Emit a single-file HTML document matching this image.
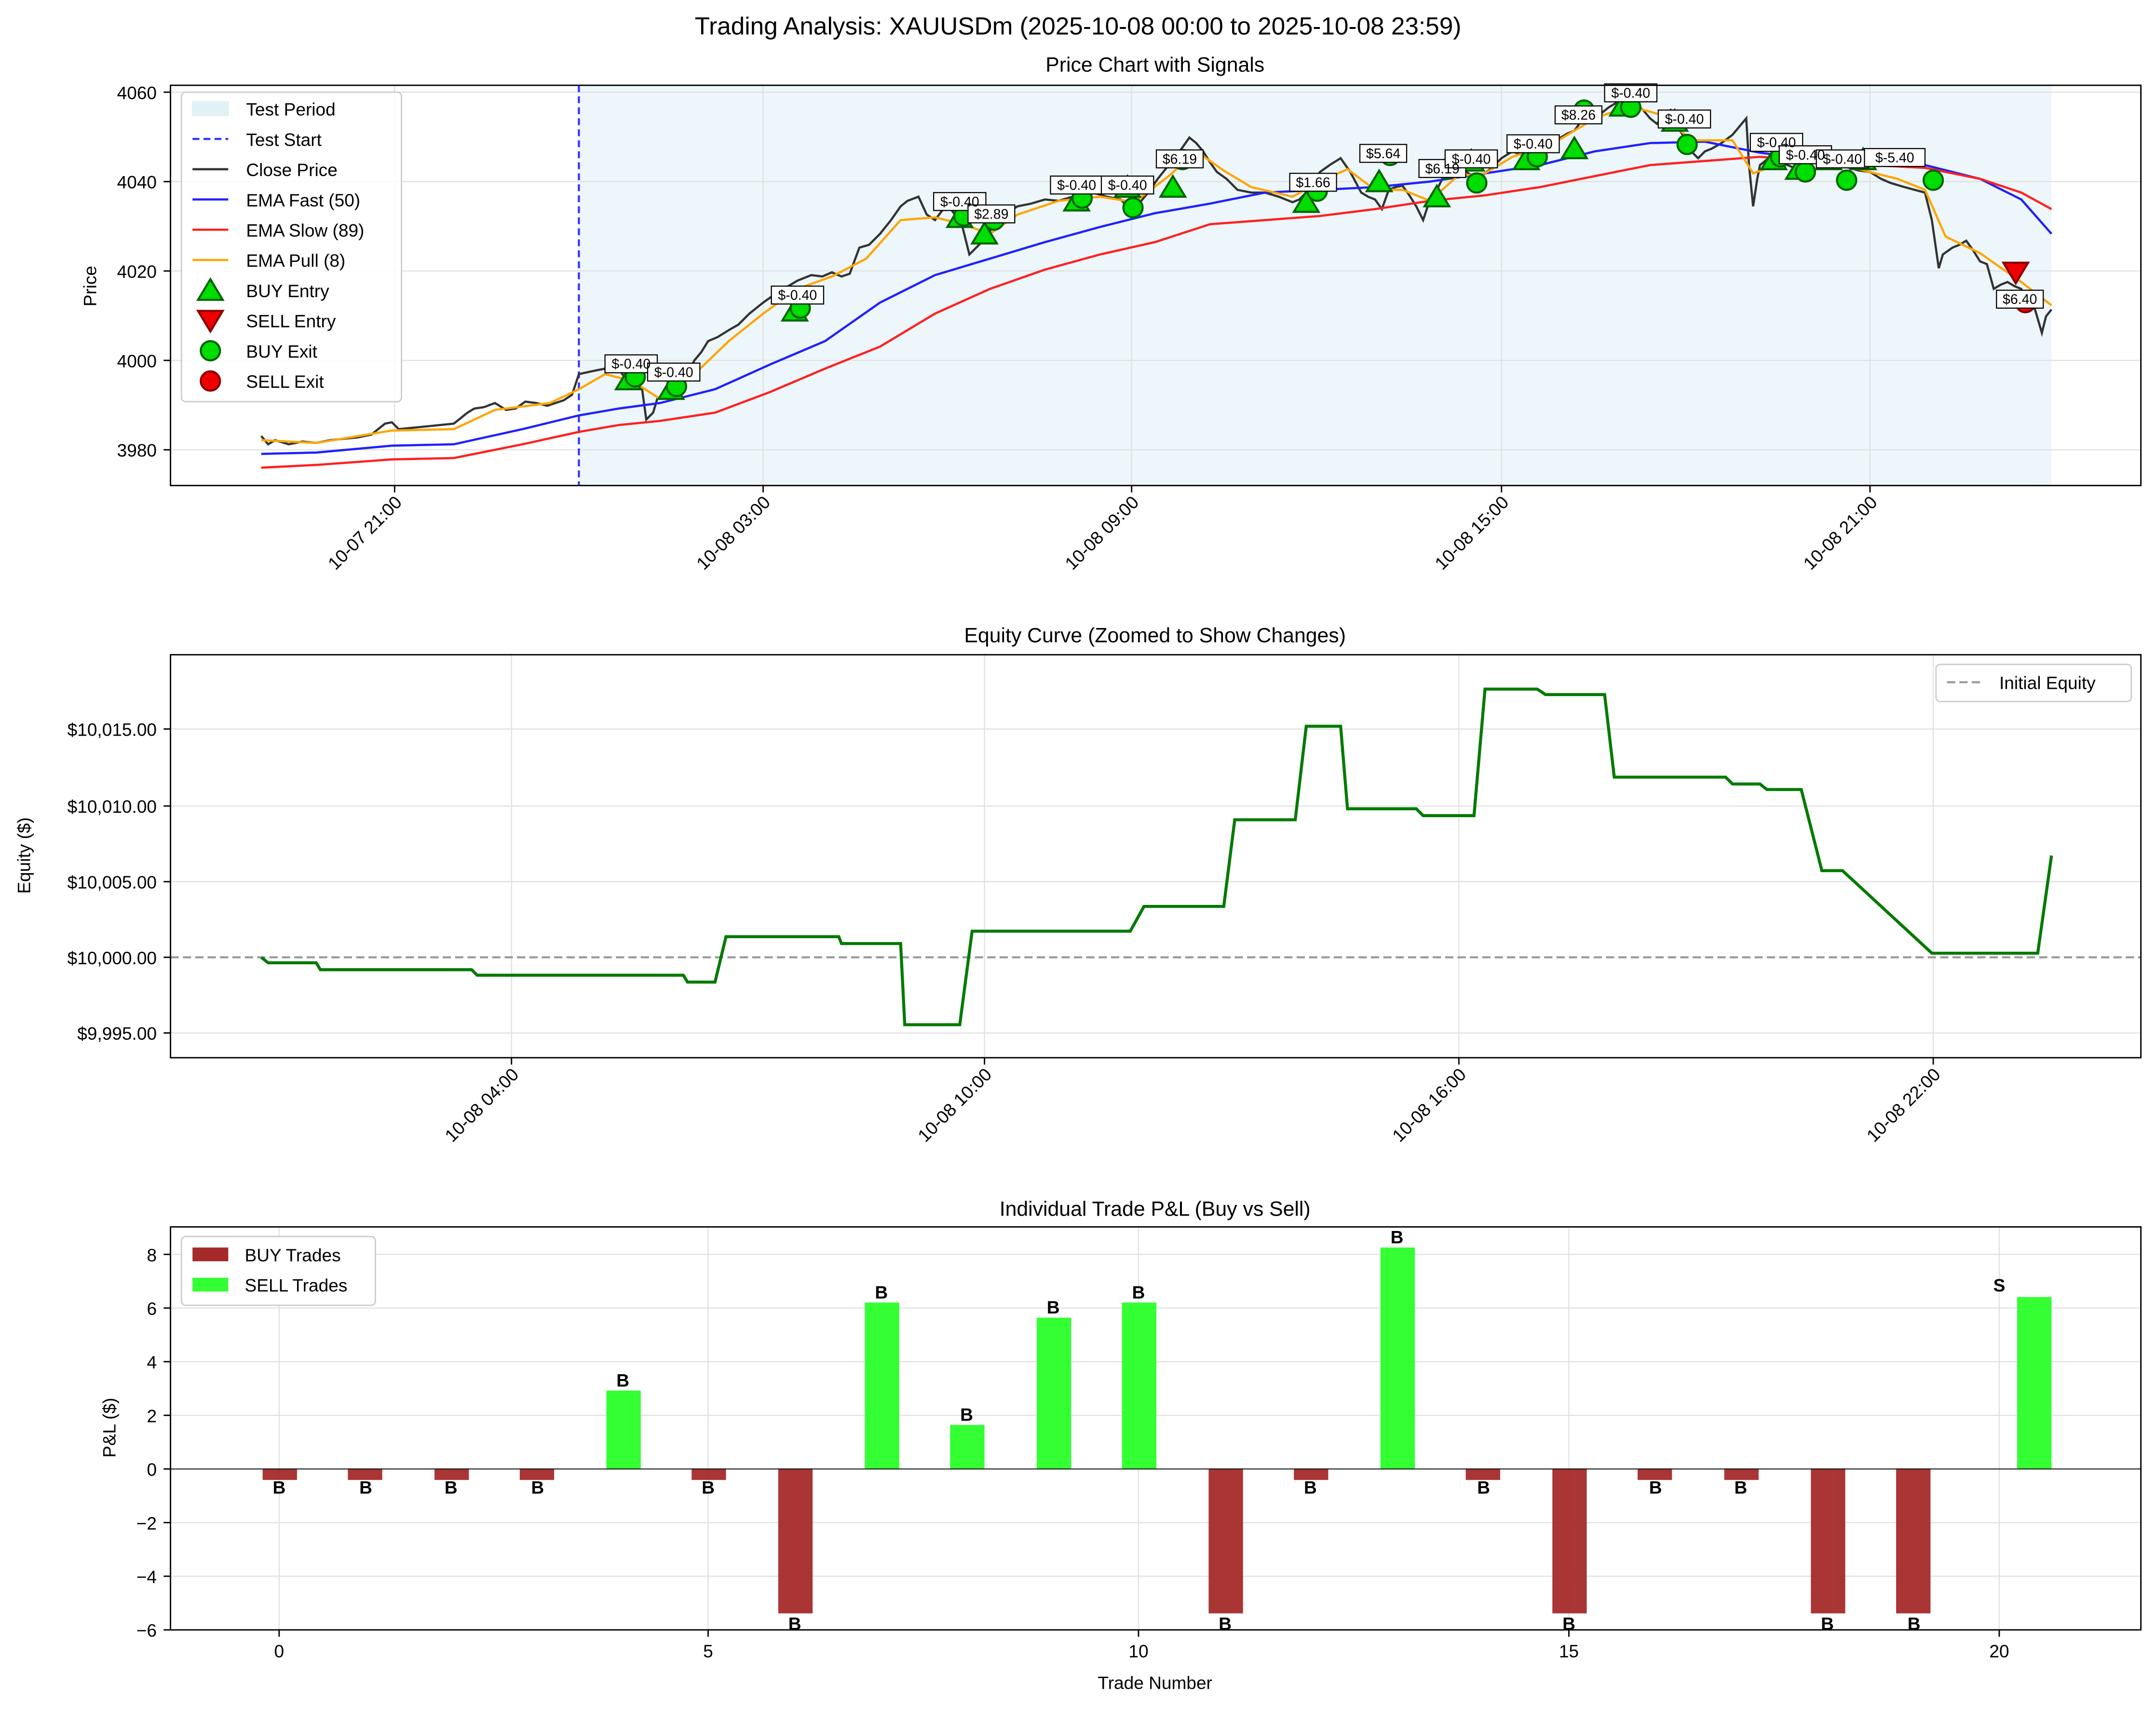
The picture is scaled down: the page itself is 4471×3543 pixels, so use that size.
<!DOCTYPE html>
<html><head><meta charset="utf-8"><style>html,body{margin:0;padding:0;background:#fff}svg{display:block}</style></head><body>
<svg width="4471" height="3543" viewBox="0 0 1568 1242.5" xmlns="http://www.w3.org/2000/svg" font-family="Liberation Sans, DejaVu Sans, sans-serif">
<rect width="1568" height="1243" fill="#fff"/>
<text x="784" y="25" font-size="18" text-anchor="middle">Trading Analysis: XAUUSDm (2025-10-08 00:00 to 2025-10-08 23:59)</text>

<!-- Panel 1 -->
<text x="840" y="52" font-size="15" text-anchor="middle">Price Chart with Signals</text>
<rect x="421" y="62" width="1071" height="291" fill="#add8e6" opacity="0.22"/>
<g stroke="#e0e0e0" stroke-width="0.8">
<line x1="287" y1="62" x2="287" y2="353"/><line x1="555" y1="62" x2="555" y2="353"/><line x1="823" y1="62" x2="823" y2="353"/><line x1="1092" y1="62" x2="1092" y2="353"/><line x1="1360" y1="62" x2="1360" y2="353"/>
<line x1="124" y1="327" x2="1557" y2="327"/><line x1="124" y1="262" x2="1557" y2="262"/><line x1="124" y1="197" x2="1557" y2="197"/><line x1="124" y1="132" x2="1557" y2="132"/><line x1="124" y1="67" x2="1557" y2="67"/>
</g>
<line x1="421" y1="62" x2="421" y2="353" stroke="#3333ff" stroke-width="1.5" stroke-dasharray="5,3"/>
<polyline fill="none" stroke="#333" stroke-width="1.6" points="190,317 195,323 200,320 210,323 220,321 230,322 240,320 250,319 260,318 270,316 280,308 285,307 290,312 330,308 340,300 345,297 352,296 360,293 368,298 375,297 382,292 390,293 398,295 410,291 416,287 421,272 430,270 440,268 448,266 455,275 462,277 467,283 470,305 475,300 478,290 484,288 490,287 497,278 505,262 510,256 515,248 522,245 530,240 537,236 545,228 550,224 555,220 562,215 570,210 580,204 590,200 598,201 605,198 612,201 618,199 625,180 632,178 640,170 648,160 655,150 660,146 668,143 674,156 680,160 686,152 690,150 696,158 700,165 705,185 710,180 715,175 720,168 725,160 732,155 740,150 750,148 760,145 770,146 780,143 788,141 795,140 805,143 815,145 820,150 825,148 830,146 835,140 842,130 850,120 858,110 865,100 870,104 875,110 880,118 885,125 892,130 900,138 910,140 920,140 930,143 940,147 945,145 950,140 955,132 960,125 967,120 975,115 982,125 990,140 995,143 1000,145 1005,152 1010,138 1015,136 1020,135 1025,142 1030,150 1035,160 1040,145 1045,138 1050,128 1055,124 1060,120 1068,126 1075,130 1080,126 1085,122 1092,115 1100,110 1105,112 1110,113 1115,108 1120,105 1128,103 1135,100 1140,97 1145,95 1150,88 1155,80 1160,84 1165,82 1170,78 1175,75 1180,74 1185,72 1190,76 1195,80 1200,86 1205,90 1210,84 1215,80 1220,92 1225,100 1230,110 1235,115 1240,110 1245,108 1252,104 1260,98 1265,92 1270,86 1272,120 1275,150 1278,130 1280,120 1285,116 1290,112 1295,116 1300,120 1305,122 1310,125 1315,118 1320,115 1325,114 1330,115 1338,120 1345,122 1352,124 1360,125 1368,130 1375,133 1385,136 1400,140 1405,160 1410,195 1413,185 1420,180 1425,178 1430,175 1435,182 1440,190 1445,192 1450,210 1455,207 1460,205 1465,208 1470,210 1475,220 1480,225 1485,242 1488,230 1492,225"/>
<polyline fill="none" stroke="#2020ff" stroke-width="1.6" points="190,330 230,329 285,324 330,323 380,312 421,302 450,297 480,293 520,283 560,265 600,248 640,220 680,200 720,188 760,176 800,165 840,155 880,148 920,140 960,138 1000,136 1040,132 1080,126 1120,120 1160,110 1200,104 1240,103 1280,111 1320,116 1360,118 1400,120 1440,130 1470,145 1492,170"/>
<polyline fill="none" stroke="#ff2020" stroke-width="1.6" points="190,340 230,338 285,334 330,333 380,323 421,314 450,309 480,306 520,300 560,285 600,268 640,252 680,228 720,210 760,196 800,185 840,176 880,163 920,160 960,157 1000,152 1040,146 1080,142 1120,136 1160,128 1200,120 1240,117 1280,114 1320,117 1360,120 1400,122 1440,130 1470,140 1492,152"/>
<polyline fill="none" stroke="#ffa500" stroke-width="1.6" points="190,320 230,322 285,313 330,312 360,298 400,293 421,283 440,272 460,277 480,290 505,272 530,248 555,228 580,210 605,201 630,188 655,160 680,158 700,163 720,170 740,156 770,146 800,143 825,147 850,128 870,110 890,124 910,136 940,143 960,132 980,123 1000,138 1020,138 1040,146 1060,128 1080,126 1100,114 1130,104 1160,86 1185,77 1210,84 1230,102 1260,102 1275,126 1300,117 1340,120 1380,130 1400,138 1415,172 1440,184 1470,205 1492,222"/>
<g fill="#00dd00" stroke="#006400" stroke-width="1.5">
<path d="M457,268 l9,15 h-18z"/><path d="M488,275 l9,15 h-18z"/><path d="M578,218 l9,15 h-18z"/><path d="M698,150 l9,15 h-18z"/><path d="M716,162 l9,15 h-18z"/><path d="M783,138 l9,15 h-18z"/><path d="M820,128 l9,15 h-18z"/><path d="M853,128 l9,15 h-18z"/><path d="M950,139 l9,15 h-18z"/><path d="M1003,124 l9,15 h-18z"/><path d="M1045,135 l9,15 h-18z"/><path d="M1070,109 l9,15 h-18z"/><path d="M1110,108 l9,15 h-18z"/><path d="M1145,100 l9,15 h-18z"/><path d="M1180,69 l9,15 h-18z"/><path d="M1218,80 l9,15 h-18z"/><path d="M1290,108 l9,15 h-18z"/><path d="M1308,115 l9,15 h-18z"/><path d="M1330,108 l9,15 h-18z"/><path d="M1355,108 l9,15 h-18z"/>
<circle cx="462" cy="274" r="7"/><circle cx="492" cy="281" r="7"/><circle cx="582" cy="224" r="7"/><circle cx="701" cy="157" r="7"/><circle cx="723" cy="160" r="7"/><circle cx="787" cy="144" r="7"/><circle cx="824" cy="151" r="7"/><circle cx="860" cy="116" r="7"/><circle cx="958" cy="139" r="7"/><circle cx="1011" cy="113" r="7"/><circle cx="1052" cy="123" r="7"/><circle cx="1074" cy="133" r="7"/><circle cx="1118" cy="114" r="7"/><circle cx="1152" cy="80" r="7"/><circle cx="1186" cy="78" r="7"/><circle cx="1227" cy="105" r="7"/><circle cx="1295" cy="114" r="7"/><circle cx="1313" cy="125" r="7"/><circle cx="1343" cy="131" r="7"/><circle cx="1406" cy="131" r="7"/>
</g>
<path d="M1466,206 l9,-15 h-18z" fill="#ee0000" stroke="#8b0000" stroke-width="1.5"/>
<circle cx="1473" cy="220" r="7" fill="#ee0000" stroke="#8b0000" stroke-width="1.5"/>
<g font-size="10" text-anchor="middle">
<g fill="#fff" stroke="#000" stroke-width="0.8">
<rect x="440" y="258" width="38" height="13"/><rect x="471" y="264" width="38" height="13"/><rect x="561" y="208" width="38" height="13"/><rect x="679" y="140" width="38" height="13"/><rect x="704" y="149" width="34" height="13"/><rect x="764" y="128" width="38" height="13"/><rect x="801" y="128" width="38" height="13"/><rect x="841" y="109" width="34" height="13"/><rect x="938" y="126" width="34" height="13"/><rect x="989" y="105" width="34" height="13"/><rect x="1032" y="116" width="34" height="13"/><rect x="1051" y="109" width="38" height="13"/><rect x="1096" y="98" width="38" height="13"/><rect x="1131" y="77" width="34" height="13"/><rect x="1167" y="61" width="38" height="13"/><rect x="1206" y="80" width="38" height="13"/><rect x="1273" y="97" width="38" height="13"/><rect x="1294" y="106" width="38" height="13"/><rect x="1321" y="109" width="38" height="13"/><rect x="1356" y="108" width="44" height="13"/><rect x="1452" y="211" width="34" height="13"/>
</g>
<text x="459" y="268">$-0.40</text><text x="490" y="274">$-0.40</text><text x="580" y="218">$-0.40</text><text x="698" y="150">$-0.40</text><text x="721" y="159">$2.89</text><text x="783" y="138">$-0.40</text><text x="820" y="138">$-0.40</text><text x="858" y="119">$6.19</text><text x="955" y="136">$1.66</text><text x="1006" y="115">$5.64</text><text x="1049" y="126">$6.19</text><text x="1070" y="119">$-0.40</text><text x="1115" y="108">$-0.40</text><text x="1148" y="87">$8.26</text><text x="1186" y="71">$-0.40</text><text x="1225" y="90">$-0.40</text><text x="1292" y="107">$-0.40</text><text x="1313" y="116">$-0.40</text><text x="1340" y="119">$-0.40</text><text x="1378" y="118">$-5.40</text><text x="1469" y="221">$6.40</text>
</g>
<rect x="124" y="62" width="1433" height="291" fill="none" stroke="#000" stroke-width="1"/>
<g font-size="13" text-anchor="end">
<text x="114" y="332">3980</text><text x="114" y="267">4000</text><text x="114" y="202">4020</text><text x="114" y="137">4040</text><text x="114" y="72">4060</text>
</g>
<g stroke="#000"><line x1="119" y1="327" x2="124" y2="327"/><line x1="119" y1="262" x2="124" y2="262"/><line x1="119" y1="197" x2="124" y2="197"/><line x1="119" y1="132" x2="124" y2="132"/><line x1="119" y1="67" x2="124" y2="67"/>
<line x1="287" y1="353" x2="287" y2="358"/><line x1="555" y1="353" x2="555" y2="358"/><line x1="823" y1="353" x2="823" y2="358"/><line x1="1092" y1="353" x2="1092" y2="358"/><line x1="1360" y1="353" x2="1360" y2="358"/></g>
<text x="70" y="208" font-size="13" text-anchor="middle" transform="rotate(-90 70 208)">Price</text>
<g font-size="13" text-anchor="end">
<text transform="translate(293,366) rotate(-45)">10-07 21:00</text><text transform="translate(561,366) rotate(-45)">10-08 03:00</text><text transform="translate(829,366) rotate(-45)">10-08 09:00</text><text transform="translate(1098,366) rotate(-45)">10-08 15:00</text><text transform="translate(1366,366) rotate(-45)">10-08 21:00</text>
</g>
<rect x="132" y="67" width="160" height="225" rx="3" fill="#fff" fill-opacity="0.85" stroke="#ccc"/>
<g font-size="13">
<rect x="140" y="74" width="26" height="10" fill="#add8e6" opacity="0.35" stroke="#add8e6"/><text x="179" y="84">Test Period</text>
<line x1="140" y1="101" x2="166" y2="101" stroke="#3333ff" stroke-width="1.5" stroke-dasharray="5,3"/><text x="179" y="106">Test Start</text>
<line x1="140" y1="123" x2="166" y2="123" stroke="#333" stroke-width="1.6"/><text x="179" y="128">Close Price</text>
<line x1="140" y1="145" x2="166" y2="145" stroke="#2020ff" stroke-width="1.6"/><text x="179" y="150">EMA Fast (50)</text>
<line x1="140" y1="167" x2="166" y2="167" stroke="#ff2020" stroke-width="1.6"/><text x="179" y="172">EMA Slow (89)</text>
<line x1="140" y1="189" x2="166" y2="189" stroke="#ffa500" stroke-width="1.6"/><text x="179" y="194">EMA Pull (8)</text>
<path d="M153,203 l9,15 h-18z" fill="#00dd00" stroke="#006400" stroke-width="1.5"/><text x="179" y="216">BUY Entry</text>
<path d="M153,241 l9,-15 h-18z" fill="#ee0000" stroke="#8b0000" stroke-width="1.5"/><text x="179" y="238">SELL Entry</text>
<circle cx="153" cy="255" r="7" fill="#00dd00" stroke="#006400" stroke-width="1.5"/><text x="179" y="260">BUY Exit</text>
<circle cx="153" cy="277" r="7" fill="#ee0000" stroke="#8b0000" stroke-width="1.5"/><text x="179" y="282">SELL Exit</text>
</g>

<!-- Panel 2 -->
<text x="840" y="467" font-size="15" text-anchor="middle">Equity Curve (Zoomed to Show Changes)</text>
<g stroke="#e0e0e0" stroke-width="0.8">
<line x1="372" y1="476" x2="372" y2="769"/><line x1="716" y1="476" x2="716" y2="769"/><line x1="1061" y1="476" x2="1061" y2="769"/><line x1="1406" y1="476" x2="1406" y2="769"/>
<line x1="124" y1="751" x2="1557" y2="751"/><line x1="124" y1="641" x2="1557" y2="641"/><line x1="124" y1="586" x2="1557" y2="586"/><line x1="124" y1="530" x2="1557" y2="530"/>
</g>
<line x1="124" y1="696" x2="1557" y2="696" stroke="#999" stroke-width="1.5" stroke-dasharray="6,3"/>
<polyline fill="none" stroke="#007a00" stroke-width="2.2" points="190,696 195,700 230,700 233,705 343,705 347,709 497,709 500,714 520,714 528,681 610,681 612,686 655,686 658,745 698,745 707,677 822,677 832,659 890,659 898,596 942,596 950,528 975,528 980,588 1030,588 1035,593 1072,593 1080,501 1118,501 1124,505 1167,505 1174,565 1255,565 1260,570 1280,570 1285,574 1310,574 1325,633 1340,633 1405,693 1482,693 1492,622"/>
<rect x="124" y="476" width="1433" height="293" fill="none" stroke="#000"/>
<g font-size="13" text-anchor="end">
<text x="114" y="756">$9,995.00</text><text x="114" y="701">$10,000.00</text><text x="114" y="646">$10,005.00</text><text x="114" y="591">$10,010.00</text><text x="114" y="535">$10,015.00</text>
</g>
<g stroke="#000"><line x1="119" y1="751" x2="124" y2="751"/><line x1="119" y1="696" x2="124" y2="696"/><line x1="119" y1="641" x2="124" y2="641"/><line x1="119" y1="586" x2="124" y2="586"/><line x1="119" y1="530" x2="124" y2="530"/>
<line x1="372" y1="769" x2="372" y2="774"/><line x1="716" y1="769" x2="716" y2="774"/><line x1="1061" y1="769" x2="1061" y2="774"/><line x1="1406" y1="769" x2="1406" y2="774"/></g>
<text x="22" y="622" font-size="13" text-anchor="middle" transform="rotate(-90 22 622)">Equity ($)</text>
<g font-size="13" text-anchor="end">
<text transform="translate(378,782) rotate(-45)">10-08 04:00</text><text transform="translate(722,782) rotate(-45)">10-08 10:00</text><text transform="translate(1067,782) rotate(-45)">10-08 16:00</text><text transform="translate(1412,782) rotate(-45)">10-08 22:00</text>
</g>
<rect x="1408" y="483" width="142" height="27" rx="3" fill="#fff" stroke="#ccc"/>
<line x1="1416" y1="496" x2="1442" y2="496" stroke="#999" stroke-width="1.5" stroke-dasharray="6,3"/>
<text x="1454" y="501" font-size="13">Initial Equity</text>

<!-- Panel 3 -->
<text x="840" y="884" font-size="15" text-anchor="middle">Individual Trade P&amp;L (Buy vs Sell)</text>
<g stroke="#e0e0e0" stroke-width="0.8">
<line x1="203" y1="892" x2="203" y2="1185"/><line x1="515" y1="892" x2="515" y2="1185"/><line x1="828" y1="892" x2="828" y2="1185"/><line x1="1141" y1="892" x2="1141" y2="1185"/><line x1="1454" y1="892" x2="1454" y2="1185"/>
<line x1="124" y1="912" x2="1557" y2="912"/><line x1="124" y1="951" x2="1557" y2="951"/><line x1="124" y1="990" x2="1557" y2="990"/><line x1="124" y1="1029" x2="1557" y2="1029"/><line x1="124" y1="1107" x2="1557" y2="1107"/><line x1="124" y1="1146" x2="1557" y2="1146"/>
</g>
<g fill="#a52a2a" opacity="0.95">
<rect x="191" y="1068" width="25" height="8"/><rect x="253" y="1068" width="25" height="8"/><rect x="316" y="1068" width="25" height="8"/><rect x="378" y="1068" width="25" height="8"/><rect x="503" y="1068" width="25" height="8"/><rect x="566" y="1068" width="25" height="105"/><rect x="879" y="1068" width="25" height="105"/><rect x="941" y="1068" width="25" height="8"/><rect x="1066" y="1068" width="25" height="8"/><rect x="1129" y="1068" width="25" height="105"/><rect x="1191" y="1068" width="25" height="8"/><rect x="1254" y="1068" width="25" height="8"/><rect x="1317" y="1068" width="25" height="105"/><rect x="1379" y="1068" width="25" height="105"/>
</g>
<g fill="#33ff33">
<rect x="441" y="1011" width="25" height="57"/><rect x="629" y="947" width="25" height="121"/><rect x="691" y="1036" width="25" height="32"/><rect x="754" y="958" width="25" height="110"/><rect x="816" y="947" width="25" height="121"/><rect x="1004" y="907" width="25" height="161"/><rect x="1467" y="943" width="25" height="125"/>
</g>
<line x1="124" y1="1068" x2="1557" y2="1068" stroke="#000" stroke-width="1" opacity="0.7"/>
<g font-size="13" font-weight="bold" text-anchor="middle">
<text x="203" y="1086">B</text><text x="266" y="1086">B</text><text x="328" y="1086">B</text><text x="391" y="1086">B</text><text x="453" y="1008">B</text><text x="515" y="1086">B</text><text x="578" y="1185">B</text><text x="641" y="944">B</text><text x="703" y="1033">B</text><text x="766" y="955">B</text><text x="828" y="944">B</text><text x="891" y="1185">B</text><text x="953" y="1086">B</text><text x="1016" y="904">B</text><text x="1079" y="1086">B</text><text x="1141" y="1185">B</text><text x="1204" y="1086">B</text><text x="1266" y="1086">B</text><text x="1329" y="1185">B</text><text x="1392" y="1185">B</text><text x="1454" y="939">S</text>
</g>
<rect x="124" y="892" width="1433" height="293" fill="none" stroke="#000"/>
<g font-size="13" text-anchor="end">
<text x="114" y="917">8</text><text x="114" y="956">6</text><text x="114" y="995">4</text><text x="114" y="1034">2</text><text x="114" y="1073">0</text><text x="114" y="1112">−2</text><text x="114" y="1151">−4</text><text x="114" y="1190">−6</text>
</g>
<g stroke="#000"><line x1="119" y1="912" x2="124" y2="912"/><line x1="119" y1="951" x2="124" y2="951"/><line x1="119" y1="990" x2="124" y2="990"/><line x1="119" y1="1029" x2="124" y2="1029"/><line x1="119" y1="1068" x2="124" y2="1068"/><line x1="119" y1="1107" x2="124" y2="1107"/><line x1="119" y1="1146" x2="124" y2="1146"/><line x1="119" y1="1185" x2="124" y2="1185"/>
<line x1="203" y1="1185" x2="203" y2="1190"/><line x1="515" y1="1185" x2="515" y2="1190"/><line x1="828" y1="1185" x2="828" y2="1190"/><line x1="1141" y1="1185" x2="1141" y2="1190"/><line x1="1454" y1="1185" x2="1454" y2="1190"/></g>
<g font-size="13" text-anchor="middle">
<text x="203" y="1205">0</text><text x="515" y="1205">5</text><text x="828" y="1205">10</text><text x="1141" y="1205">15</text><text x="1454" y="1205">20</text>
<text x="840" y="1228">Trade Number</text>
</g>
<text x="84" y="1038" font-size="13" text-anchor="middle" transform="rotate(-90 84 1038)">P&amp;L ($)</text>
<rect x="132" y="899" width="141" height="50" rx="3" fill="#fff" stroke="#ccc"/>
<rect x="140" y="907" width="26" height="10" fill="#a52a2a"/><text x="178" y="917" font-size="13">BUY Trades</text>
<rect x="140" y="929" width="26" height="10" fill="#33ff33"/><text x="178" y="939" font-size="13">SELL Trades</text>
</svg>
</body></html>
